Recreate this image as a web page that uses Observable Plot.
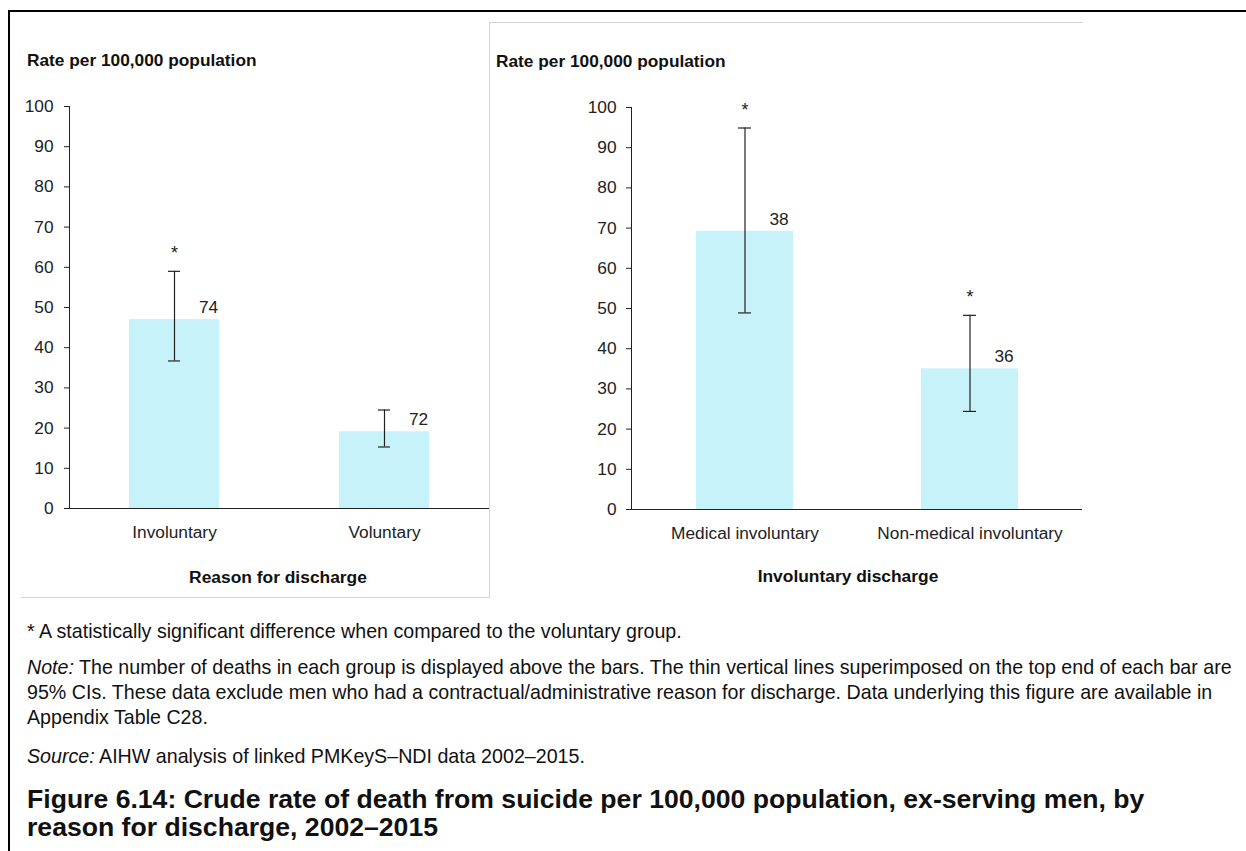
<!DOCTYPE html>
<html>
<head>
<meta charset="utf-8">
<script src="https://cdn.jsdelivr.net/npm/d3@7"></script>
<script src="https://cdn.jsdelivr.net/npm/@observablehq/plot@0.6"></script>
<style>
  html, body { margin: 0; padding: 0; background: #fff; }
  body { font-family: "Liberation Sans", Arial, sans-serif; color: #000; }
  #wrap { position: relative; width: 1246px; height: 851px; overflow: hidden; background: #fff; }
  .abs { position: absolute; }
  .frame-top { left: 8px; top: 10px; width: 1238px; height: 2px; background: #000; }
  .frame-left { left: 8px; top: 10px; width: 2px; height: 841px; background: #000; }
  .panel-line { background: #d4d4d4; }
  .ytitle { font-weight: bold; font-size: 17.3px; white-space: nowrap; line-height: 20px; color: #111; }
  .xtitle { font-weight: bold; font-size: 17.4px; white-space: nowrap; line-height: 20px; transform: translateX(-50%); color: #111; }
  .foot { left: 27px; font-size: 19.65px; line-height: 25px; white-space: nowrap; color: #111; }
  .title { left: 27px; font-size: 26.6px; font-weight: bold; line-height: 28px; white-space: nowrap; color: #111; }
</style>
</head>
<body>
<div id="wrap">
  <div class="abs frame-top"></div>
  <div class="abs frame-left"></div>
  <div class="abs panel-line" style="left:21px; top:597px; width:468px; height:1px;"></div>
  <div class="abs panel-line" style="left:489px; top:22px; width:1px; height:576px;"></div>
  <div class="abs panel-line" style="left:489px; top:22px; width:594px; height:1px;"></div>

  <div id="c1" class="abs" style="left:0px; top:0px;"></div>
  <div id="c2" class="abs" style="left:489px; top:0px;"></div>

  <div class="abs ytitle" style="left:27px; top:50px;">Rate per 100,000 population</div>
  <div class="abs ytitle" style="left:496px; top:51px;">Rate per 100,000 population</div>
  <div class="abs xtitle" style="left:278px; top:567px;">Reason for discharge</div>
  <div class="abs xtitle" style="left:848px; top:566px;">Involuntary discharge</div>

  <div class="abs foot" style="top:619px;">* A statistically significant difference when compared to the voluntary group.</div>
  <div class="abs foot" style="top:655px;"><i>Note:</i> The number of deaths in each group is displayed above the bars. The thin vertical lines superimposed on the top end of each bar are<br>95% CIs. These data exclude men who had a contractual/administrative reason for discharge. Data underlying this figure are available in<br>Appendix Table C28.</div>
  <div class="abs foot" style="top:744px;"><i>Source:</i> AIHW analysis of linked PMKeyS–NDI data 2002–2015.</div>
  <div class="abs title" style="top:785px;">Figure 6.14: Crude rate of death from suicide per 100,000 population, ex-serving men, by<br>reason for discharge, 2002–2015</div>
</div>

<script>
// ---- Data: panel 1 (reason for discharge) ----
const reasonCategories = ["Involuntary", "Voluntary"];
const reasonRate = [47.0, 19.1];
const reasonLower = [36.7, 15.3];
const reasonUpper = [59.0, 24.5];
const reasonDeaths = [74, 72];
const reasonSignificant = [true, false];

// ---- Data: panel 2 (involuntary discharge) ----
const involCategories = ["Medical involuntary", "Non-medical involuntary"];
const involRate = [69.2, 35.0];
const involLower = [48.9, 24.4];
const involUpper = [94.9, 48.3];
const involDeaths = [38, 36];
const involSignificant = [true, true];

const yDomain = [0, 100];

function makeChart(cats, rate, lower, upper, deaths, sig, opts) {
  const data = cats.map((c, i) => ({
    cat: c, rate: rate[i], lo: lower[i], hi: upper[i], n: deaths[i], sig: sig[i]
  }));
  return Plot.plot({
    width: opts.width,
    height: 600,
    marginLeft: opts.marginLeft,
    marginRight: 0,
    marginTop: opts.marginTop,
    marginBottom: 600 - opts.zeroY,
    style: {
      fontFamily: "'Liberation Sans', Arial, sans-serif",
      fontSize: "17.3px",
      color: "#222",
      background: "transparent",
      overflow: "visible"
    },
    x: {
      domain: cats,
      paddingInner: 0.57,
      paddingOuter: 0.285,
      label: null,
      tickSize: 0,
      tickPadding: 17
    },
    y: {
      domain: yDomain,
      ticks: 10,
      label: null,
      tickSize: 5,
      tickPadding: opts.tickPadding,
      line: true
    },
    marks: [
      Plot.barY(data, {x: "cat", y: "rate", fill: "#c8f2fa"}),
      Plot.ruleY([0], {stroke: "#222", strokeWidth: 1.2}),
      Plot.ruleX(data, {x: "cat", y1: "lo", y2: "hi", stroke: "#222", strokeWidth: 1.2}),
      Plot.tickY(data, {x: "cat", y: "lo", stroke: "#222", strokeWidth: 1.2, insetLeft: opts.capInset, insetRight: opts.capInset}),
      Plot.tickY(data, {x: "cat", y: "hi", stroke: "#222", strokeWidth: 1.2, insetLeft: opts.capInset, insetRight: opts.capInset}),
      Plot.text(data, {x: "cat", y: "rate", text: d => String(d.n), dx: 34, dy: -12, lineAnchor: "middle", fill: "#222"}),
      Plot.text(data.filter(d => d.sig), {x: "cat", y: "hi", text: () => "*", dy: -18, lineAnchor: "middle", fill: "#222", fontSize: 18})
    ]
  });
}

document.getElementById("c1").appendChild(
  makeChart(reasonCategories, reasonRate, reasonLower, reasonUpper, reasonDeaths, reasonSignificant,
    {width: 489, marginLeft: 69, marginTop: 106, zeroY: 508, tickPadding: 11, capInset: 39})
);
document.getElementById("c2").appendChild(
  makeChart(involCategories, involRate, involLower, involUpper, involDeaths, involSignificant,
    {width: 593, marginLeft: 142, marginTop: 107, zeroY: 509, tickPadding: 10, capInset: 42})
);
</script>
</body>
</html>
